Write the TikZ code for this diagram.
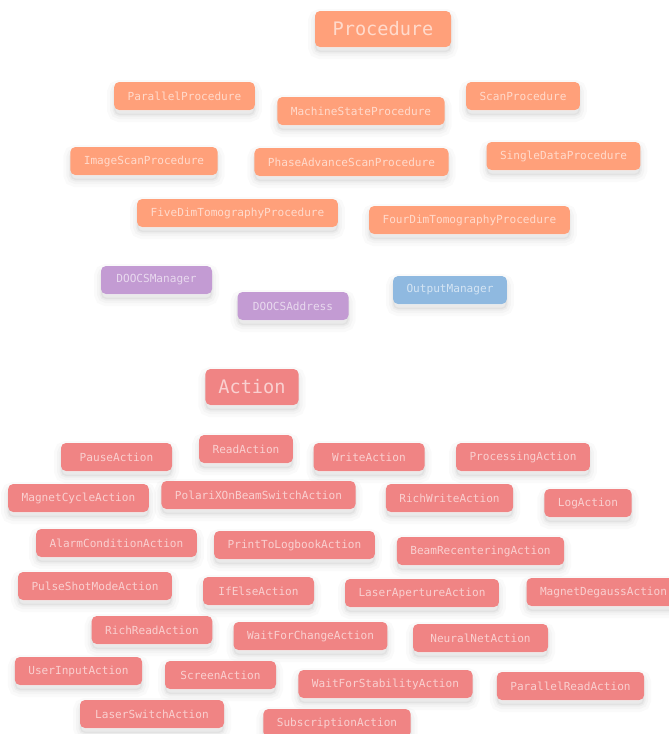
\documentclass[tikz,border=0pt]{standalone}
\usepackage{fontspec}
\setmonofont{DejaVu Sans Mono}
\definecolor{procfill}{HTML}{FFA07A}
\definecolor{actfill}{HTML}{F08484}
\definecolor{doocsfill}{HTML}{C39BD3}
\definecolor{outfill}{HTML}{8FB9E0}
\begin{document}
\begin{tikzpicture}[x=1pt,y=-1pt,
    softshadow/.style={
        preaction={draw=black, draw opacity=0.02, line width=14pt, transform canvas={yshift=-5pt}},
        preaction={draw=black, draw opacity=0.025, line width=8pt, transform canvas={yshift=-5pt}},
        preaction={draw=black, draw opacity=0.03, line width=3pt, transform canvas={yshift=-5pt}},
        preaction={fill=black, fill opacity=0.04, transform canvas={yshift=-5pt}}},
    box/.style={softshadow, rounded corners=5pt, inner xsep=13.5pt, inner ysep=0pt, minimum height=28pt,
        text=white, text opacity=0.62, font=\ttfamily\fontsize{11.1}{13}\selectfont},
    wide/.style={minimum width=111pt},
    proc/.style={box, fill=procfill},
    act/.style={box, fill=actfill},
    doocs/.style={box, fill=doocsfill},
    outmgr/.style={box, fill=outfill},
    heading/.style={minimum height=36pt, inner xsep=13pt, font=\ttfamily\fontsize{18.6}{22}\selectfont}]
    \fill[white] (0,0) rectangle (669,734);
    \useasboundingbox (0,0) rectangle (669,734);
    \clip (0,0) rectangle (669,734);
    % procedures
    \node[proc,heading,minimum width=136pt] (procedure) at (383,29) {Procedure};
    \node[proc] (parallelproc) at (184.5,96) {ParallelProcedure};
    \node[proc] (machinestate) at (361,111) {MachineStateProcedure};
    \node[proc] (scanproc) at (523,96) {ScanProcedure};
    \node[proc] (imagescan) at (144,161) {ImageScanProcedure};
    \node[proc] (phaseadvance) at (351.5,162) {PhaseAdvanceScanProcedure};
    \node[proc] (singledata) at (563.5,156) {SingleDataProcedure};
    \node[proc] (fivedim) at (237.5,213) {FiveDimTomographyProcedure};
    \node[proc] (fourdim) at (469.5,220) {FourDimTomographyProcedure};
    % managers
    \node[doocs,wide] (doocsmanager) at (156.5,280) {DOOCSManager};
    \node[doocs,wide] (doocsaddress) at (293,306) {DOOCSAddress};
    \node[outmgr] (outputmanager) at (450,290) {OutputManager};
    % actions
    \node[act,heading] (action) at (252,387) {Action};
    \node[act,wide] (pause) at (116.5,457) {PauseAction};
    \node[act] (read) at (246,449) {ReadAction};
    \node[act,wide] (write) at (369,457) {WriteAction};
    \node[act] (processing) at (523,457) {ProcessingAction};
    \node[act] (magnetcycle) at (78.5,498) {MagnetCycleAction};
    \node[act] (polarix) at (258.5,495) {PolariXOnBeamSwitchAction};
    \node[act] (richwrite) at (449.5,498) {RichWriteAction};
    \node[act] (log) at (588,503) {LogAction};
    \node[act] (alarm) at (116.5,543) {AlarmConditionAction};
    \node[act] (printlog) at (294.5,545) {PrintToLogbookAction};
    \node[act] (beamrecenter) at (480.5,551) {BeamRecenteringAction};
    \node[act] (pulseshot) at (95,586) {PulseShotModeAction};
    \node[act,wide] (ifelse) at (258.5,591) {IfElseAction};
    \node[act] (laseraperture) at (422,593) {LaserApertureAction};
    \node[act] (degauss) at (603.5,592) {MagnetDegaussAction};
    \node[act] (richread) at (152,630) {RichReadAction};
    \node[act] (waitchange) at (310.5,636) {WaitForChangeAction};
    \node[act,minimum width=135pt] (neuralnet) at (480.5,638) {NeuralNetAction};
    \node[act] (userinput) at (78.5,671) {UserInputAction};
    \node[act,wide] (screen) at (220.5,675) {ScreenAction};
    \node[act] (waitstability) at (385.5,684) {WaitForStabilityAction};
    \node[act] (parallelread) at (570.5,686) {ParallelReadAction};
    \node[act,minimum width=144pt] (laserswitch) at (152,714) {LaserSwitchAction};
    \node[act] (subscription) at (337,723) {SubscriptionAction};
\end{tikzpicture}
\end{document}
